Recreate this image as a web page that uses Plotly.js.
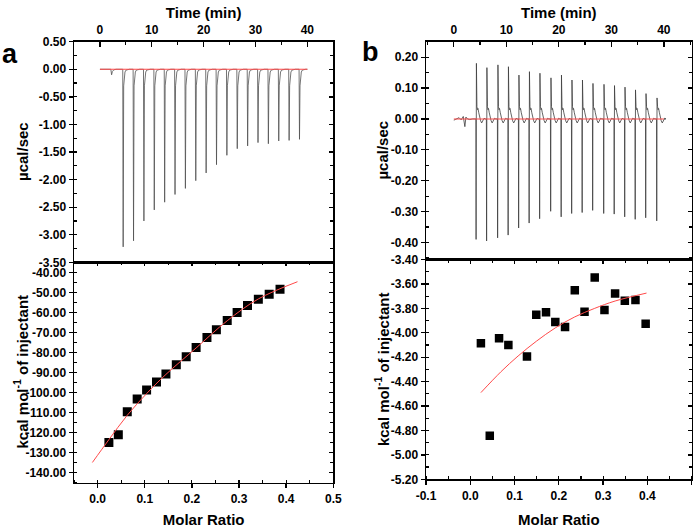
<!DOCTYPE html>
<html>
<head>
<meta charset="utf-8">
<script src="https://cdn.plot.ly/plotly-3.0.1.min.js"></script>
<style>
  html, body { margin: 0; padding: 0; background: #fff; }
  #chart { width: 700px; height: 528px; }
</style>
</head>
<body>
<div id="chart"></div>
<script>
// ---------- panel a : raw heat (µcal/sec vs min) ----------
const preTimeA = [0, 1.0, 2.1, 2.25, 2.4, 2.7, 3.1];        // small first injection
const preValA = [0, 0, 0, -0.10, -0.04, -0.01, 0];
const injTimeA = [4.4, 6.4, 8.4, 10.4, 12.4, 14.4, 16.4, 18.4, 20.4,
                  22.4, 24.4, 26.4, 28.4, 30.4, 32.4, 34.4, 36.4, 38.4];
const peakMinA = [-3.22, -3.11, -2.75, -2.55, -2.41, -2.27, -2.16, -2.02, -1.88,
                  -1.73, -1.56, -1.44, -1.39, -1.33, -1.35, -1.30, -1.29, -1.27];
// return to baseline after each peak tip (min after tip, µcal/sec)
const tailDtA = [0.1, 0.2, 0.35, 0.55, 0.8, 1.2];
const tailValA = [-0.30, -0.12, -0.05, -0.015, -0.004, 0];
const baseTimeA = [0, 40];
const baseValA = [0, 0];

// ---------- panel a : integrated heats ----------
const ratioA = [0.024, 0.044, 0.063, 0.084, 0.104, 0.125, 0.145, 0.167, 0.188,
                0.209, 0.232, 0.252, 0.275, 0.296, 0.318, 0.341, 0.364, 0.387];
const heatA = [-125.0, -121.2, -109.6, -103.3, -98.8, -94.8, -90.8, -86.2, -82.2,
               -77.5, -72.6, -68.7, -64.1, -60.1, -56.6, -53.5, -51.0, -48.5];
const fitRatioA = [-0.011, 0.024, 0.063, 0.104, 0.145, 0.209, 0.275, 0.341, 0.424];
const fitHeatA = [-135.0, -123.6, -111.4, -100.6, -91.0, -77.8, -64.2, -53.3, -44.7];

// ---------- panel b : raw heat ----------
const preTimeB = [0, 0.5, 1.0, 1.4, 1.8, 2.1, 2.3, 2.6, 3.0, 3.6];
const preValB = [-0.004, 0.0, 0.004, -0.003, 0.008, -0.025, 0.006, 0.0, -0.002, 0.0];
const injTimeB = [4.2, 6.2, 8.3, 10.3, 12.3, 14.3, 16.3, 18.4, 20.4,
                  22.4, 24.4, 26.4, 28.5, 30.5, 32.5, 34.5, 36.5, 38.6];
const peakMinB = [-0.390, -0.395, -0.385, -0.376, -0.353, -0.337, -0.323, -0.299, -0.317,
                  -0.306, -0.303, -0.296, -0.306, -0.308, -0.317, -0.325, -0.320, -0.330];
const peakMaxB = [0.180, 0.166, 0.175, 0.169, 0.142, 0.153, 0.148, 0.133, 0.142,
                  0.126, 0.126, 0.115, 0.112, 0.108, 0.103, 0.094, 0.082, 0.068];
const tailDtB = [0.1, 0.2, 0.3, 0.45, 0.6, 0.8, 1.0, 1.2, 1.45, 1.7];
const tailValB = [0.040, 0.030, 0.034, 0.020, 0.006, -0.006, -0.013, -0.008, 0.002, 0.0];
const baseTimeB = [0, 40];
const baseValB = [0, 0];

// ---------- panel b : integrated heats ----------
const ratioB = [0.024, 0.044, 0.065, 0.086, 0.128, 0.149, 0.171, 0.192, 0.214,
                0.236, 0.258, 0.281, 0.303, 0.327, 0.349, 0.373, 0.396];
const heatB = [-4.085, -4.844, -4.044, -4.101, -4.195, -3.852, -3.833, -3.912, -3.953,
               -3.652, -3.827, -3.548, -3.814, -3.679, -3.737, -3.732, -3.926];
const fitRatioB = [0.024, 0.069, 0.108, 0.149, 0.192, 0.236, 0.281, 0.327, 0.398];
const fitHeatB = [-4.49, -4.32, -4.19, -4.07, -3.96, -3.87, -3.80, -3.74, -3.675];

// ---------- tick labels ----------
const timeTicks = [0, 10, 20, 30, 40];
const timeTickText = ['0', '10', '20', '30', '40'];
const yTicksTopA = [0.5, 0, -0.5, -1, -1.5, -2, -2.5, -3, -3.5];
const yTextTopA = ['0.50', '0.00', '-0.50', '-1.00', '-1.50', '-2.00', '-2.50', '-3.00', '-3.50'];
const yTicksBotA = [-40, -50, -60, -70, -80, -90, -100, -110, -120, -130, -140];
const yTextBotA = ['-40.00', '-50.00', '-60.00', '-70.00', '-80.00', '-90.00', '-100.00',
                   '-110.00', '-120.00', '-130.00', '-140.00'];
const ratioTicksA = [0, 0.1, 0.2, 0.3, 0.4, 0.5];
const ratioTextA = ['0.0', '0.1', '0.2', '0.3', '0.4', '0.5'];
const yTicksTopB = [0.2, 0.1, 0, -0.1, -0.2, -0.3, -0.4];
const yTextTopB = ['0.20', '0.10', '0.00', '-0.10', '-0.20', '-0.30', '-0.40'];
const yTicksBotB = [-3.4, -3.6, -3.8, -4.0, -4.2, -4.4, -4.6, -4.8, -5.0, -5.2];
const yTextBotB = ['-3.40', '-3.60', '-3.80', '-4.00', '-4.20', '-4.40', '-4.60', '-4.80', '-5.00', '-5.20'];
const ratioTicksB = [-0.1, 0, 0.1, 0.2, 0.3, 0.4, 0.5];
const ratioTextB = ['-0.1', '0.0', '0.1', '0.2', '0.3', '0.4', '0.5'];

// build the thermogram traces from the read peaks
const thermoA = { t: preTimeA.slice(), v: preValA.slice() };
injTimeA.forEach((t0, i) => {
  thermoA.t.push(t0, t0 + 0.08);
  thermoA.v.push(0, peakMinA[i]);
  tailDtA.forEach((dt, k) => {
    thermoA.t.push(t0 + 0.08 + dt);
    thermoA.v.push(tailValA[k]);
  });
});
thermoA.t.push(40);
thermoA.v.push(0);

const thermoB = { t: preTimeB.slice(), v: preValB.slice() };
injTimeB.forEach((t0, i) => {
  thermoB.t.push(t0, t0 + 0.04, t0 + 0.1);
  thermoB.v.push(0, peakMinB[i], peakMaxB[i]);
  tailDtB.forEach((dt, k) => {
    thermoB.t.push(t0 + 0.1 + dt);
    thermoB.v.push(tailValB[k]);
  });
});
thermoB.t.push(40);
thermoB.v.push(0);

// pixel -> paper helpers (700 x 528 page, zero margins)
const W = 700, H = 528;
const px = (x) => x / W;
const py = (y) => 1 - y / H;

const FONT = 'Liberation Sans, Arial, Helvetica, sans-serif';
const tickFont = { family: FONT, size: 12, color: '#000', weight: 'bold' };
const titleFont = { family: FONT, size: 15, color: '#000', weight: 'bold' };
const RED = '#ff4a4a';

const base = {
  showline: true, linecolor: '#000', linewidth: 1.5, mirror: true,
  showgrid: false, zeroline: false, autorange: false,
  tickcolor: '#000', tickwidth: 1.3, tickfont: tickFont, automargin: false,
};
const minorIn = (dtick) => ({ tickmode: 'linear', tick0: 0, dtick: dtick, ticks: 'inside', ticklen: 3, tickcolor: '#000', tickwidth: 1.2 });
// extra axes that only carry the inward ticks of the right / top frame
const ghost = (extra) => Object.assign({
  showline: false, showgrid: false, zeroline: false, showticklabels: false,
  autorange: false, ticks: 'inside', ticklen: 4, tickcolor: '#000', tickwidth: 1.3,
}, extra);
// rotated y titles, placed like the original
const yTitle = (text, x, y) => ({
  text: text, xref: 'paper', yref: 'paper', x: px(x), y: py(y),
  xanchor: 'center', yanchor: 'middle', textangle: -90, showarrow: false, font: titleFont,
});

const domAx = [px(74), px(333.3)];
const domBx = [px(426), px(691.7)];

const data = [
  // a: thermogram
  { type: 'scatter', mode: 'lines', x: thermoA.t, y: thermoA.v, xaxis: 'x', yaxis: 'y',
    line: { color: '#505050', width: 0.8 }, hoverinfo: 'skip' },
  { type: 'scatter', mode: 'lines', x: baseTimeA, y: baseValA, xaxis: 'x', yaxis: 'y',
    line: { color: RED, width: 1.1 } },
  // a: isotherm
  { type: 'scatter', mode: 'markers', x: ratioA, y: heatA, xaxis: 'x2', yaxis: 'y2',
    marker: { symbol: 'square', size: 9, color: '#000' } },
  { type: 'scatter', mode: 'lines', x: fitRatioA, y: fitHeatA, xaxis: 'x2', yaxis: 'y2',
    line: { color: RED, width: 1, shape: 'spline' } },
  // b: thermogram
  { type: 'scatter', mode: 'lines', x: thermoB.t, y: thermoB.v, xaxis: 'x3', yaxis: 'y3',
    line: { color: '#3c3c3c', width: 0.8 }, hoverinfo: 'skip' },
  { type: 'scatter', mode: 'lines', x: baseTimeB, y: baseValB, xaxis: 'x3', yaxis: 'y3',
    line: { color: RED, width: 1.1 } },
  // b: isotherm
  { type: 'scatter', mode: 'markers', x: ratioB, y: heatB, xaxis: 'x4', yaxis: 'y4',
    marker: { symbol: 'square', size: 8.5, color: '#000' } },
  { type: 'scatter', mode: 'lines', x: fitRatioB, y: fitHeatB, xaxis: 'x4', yaxis: 'y4',
    line: { color: RED, width: 1, shape: 'spline' } },
  // empty traces that register the frame-tick axes
  { x: [], y: [], xaxis: 'x', yaxis: 'y5' },
  { x: [], y: [], xaxis: 'x2', yaxis: 'y6' },
  { x: [], y: [], xaxis: 'x5', yaxis: 'y2' },
  { x: [], y: [], xaxis: 'x3', yaxis: 'y7' },
  { x: [], y: [], xaxis: 'x4', yaxis: 'y8' },
  { x: [], y: [], xaxis: 'x6', yaxis: 'y4' },
];

const layout = {
  width: W, height: H,
  margin: { l: 0, r: 0, t: 0, b: 0 },
  paper_bgcolor: '#fff', plot_bgcolor: 'rgba(0,0,0,0)',
  showlegend: false,
  font: { family: FONT, color: '#000' },

  // ----- a top -----
  xaxis: Object.assign({}, base, {
    domain: domAx, anchor: 'y', side: 'top', range: [-5, 45],
    tickmode: 'array', tickvals: timeTicks, ticktext: timeTickText,
    ticks: 'inside', ticklen: 5, minor: minorIn(5), ticklabelstandoff: 1,
    title: { text: 'Time (min)', font: titleFont, standoff: 1 },
  }),
  yaxis: Object.assign({}, base, {
    domain: [py(262.3), py(41.7)], anchor: 'x', range: [-3.5, 0.5],
    tickmode: 'array', tickvals: yTicksTopA, ticktext: yTextTopA,
    ticks: 'outside', ticklen: 4, minor: minorIn(0.25),
  }),
  yaxis5: ghost({ overlaying: 'y', side: 'right', anchor: 'x', range: [-3.5, 0.5],
    tickmode: 'array', tickvals: yTicksTopA, minor: minorIn(0.25) }),

  // ----- a bottom -----
  xaxis2: Object.assign({}, base, {
    domain: domAx, anchor: 'y2', range: [-0.05, 0.5],
    tickmode: 'array', tickvals: ratioTicksA, ticktext: ratioTextA,
    ticks: 'outside', ticklen: 4, minor: minorIn(0.05), ticklabelstandoff: 1,
    title: { text: 'Molar Ratio', font: titleFont, standoff: 13 },
  }),
  yaxis2: Object.assign({}, base, {
    domain: [py(482.5), py(262.3)], anchor: 'x2', range: [-145, -35],
    tickmode: 'array', tickvals: yTicksBotA, ticktext: yTextBotA,
    ticks: 'outside', ticklen: 4, minor: minorIn(5),
  }),
  yaxis6: ghost({ overlaying: 'y2', side: 'right', anchor: 'x2', range: [-145, -35],
    tickmode: 'array', tickvals: yTicksBotA, minor: minorIn(5) }),
  xaxis5: ghost({ overlaying: 'x2', side: 'top', anchor: 'y2', range: [-0.05, 0.5],
    tickmode: 'array', tickvals: ratioTicksA, minor: minorIn(0.05) }),

  // ----- b top -----
  xaxis3: Object.assign({}, base, {
    domain: domBx, anchor: 'y3', side: 'top', range: [-5.3, 45.3],
    tickmode: 'array', tickvals: timeTicks, ticktext: timeTickText,
    ticks: 'inside', ticklen: 5, minor: minorIn(5), ticklabelstandoff: 1,
    title: { text: 'Time (min)', font: titleFont, standoff: 1 },
  }),
  yaxis3: Object.assign({}, base, {
    domain: [py(259.5), py(41.7)], anchor: 'x3', range: [-0.455, 0.25],
    tickmode: 'array', tickvals: yTicksTopB, ticktext: yTextTopB,
    ticks: 'outside', ticklen: 4, minor: minorIn(0.05),
  }),
  yaxis7: ghost({ overlaying: 'y3', side: 'right', anchor: 'x3', range: [-0.455, 0.25],
    tickmode: 'array', tickvals: yTicksTopB, minor: minorIn(0.05) }),

  // ----- b bottom -----
  xaxis4: Object.assign({}, base, {
    domain: domBx, anchor: 'y4', range: [-0.1, 0.5],
    tickmode: 'array', tickvals: ratioTicksB, ticktext: ratioTextB,
    ticks: 'outside', ticklen: 4, minor: minorIn(0.05), ticklabelstandoff: 1,
    title: { text: 'Molar Ratio', font: titleFont, standoff: 13 },
  }),
  yaxis4: Object.assign({}, base, {
    domain: [py(479.3), py(259.5)], anchor: 'x4', range: [-5.2, -3.4],
    tickmode: 'array', tickvals: yTicksBotB, ticktext: yTextBotB,
    ticks: 'outside', ticklen: 4, minor: minorIn(0.1),
  }),
  yaxis8: ghost({ overlaying: 'y4', side: 'right', anchor: 'x4', range: [-5.2, -3.4],
    tickmode: 'array', tickvals: yTicksBotB, minor: minorIn(0.1) }),
  xaxis6: ghost({ overlaying: 'x4', side: 'top', anchor: 'y4', range: [-0.1, 0.5],
    tickmode: 'array', tickvals: ratioTicksB, minor: minorIn(0.05) }),

  annotations: [
    { text: 'a', xref: 'paper', yref: 'paper', x: px(0), y: py(54), xanchor: 'left', yanchor: 'middle',
      showarrow: false, font: { family: FONT, size: 27, color: '#000', weight: 'bold' } },
    { text: 'b', xref: 'paper', yref: 'paper', x: px(360), y: py(52), xanchor: 'left', yanchor: 'middle',
      showarrow: false, font: { family: FONT, size: 27, color: '#000', weight: 'bold' } },
    yTitle('µcal/sec', 23, 152),
    yTitle('kcal mol<sup>-1</sup> of injectant', 20.5, 372),
    yTitle('µcal/sec', 383, 150.6),
    yTitle('kcal mol<sup>-1</sup> of injectant', 381.7, 369.4),
  ],
};

Plotly.newPlot('chart', data, layout, { displayModeBar: false, staticPlot: true });
</script>
</body>
</html>
